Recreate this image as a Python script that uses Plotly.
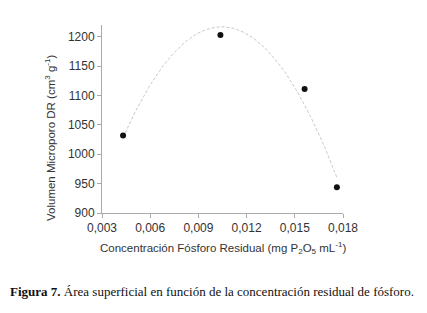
import numpy as np
import plotly.graph_objects as go

# Data
conc_p = [0.00431, 0.01037, 0.01561, 0.01762]
vol_micro = [1032, 1203, 1111, 944]

x_ticks = [0.003, 0.006, 0.009, 0.012, 0.015, 0.018]
y_ticks = [900, 950, 1000, 1050, 1100, 1150, 1200]

# Order-2 polynomial trendline from the data
coef = np.polyfit(conc_p, vol_micro, 2)
xt = np.linspace(min(conc_p), max(conc_p), 200)
yt = np.polyval(coef, xt)

fig = go.Figure()
fig.add_trace(go.Scatter(x=xt, y=yt, mode="lines",
                         line=dict(color="#c8c8c8", width=1, dash="3px,2px"),
                         hoverinfo="skip", showlegend=False))
fig.add_trace(go.Scatter(x=conc_p, y=vol_micro, mode="markers",
                         marker=dict(color="#111111", size=6),
                         showlegend=False))

axis_font = dict(family="Liberation Sans, Arial, sans-serif", size=12, color="#333333")
title_font = dict(family="Liberation Sans, Arial, sans-serif", size=11.5, color="#333333")

fig.update_layout(
    width=427, height=313,
    margin=dict(l=102, r=84, t=25, b=100),
    paper_bgcolor="white", plot_bgcolor="white",
    separators=",.",
    font=axis_font,
    xaxis=dict(range=[0.003, 0.018], tickvals=x_ticks, tickformat=".3f",
               showgrid=False, zeroline=False, showline=True, linecolor="#aaaaaa",
               linewidth=1, ticks="outside", ticklen=4, tickcolor="#aaaaaa",
               tickfont=axis_font),
    yaxis=dict(range=[900, 1220], tickvals=y_ticks,
               showgrid=False, zeroline=False, showline=True, linecolor="#aaaaaa",
               linewidth=1, ticks="outside", ticklen=4, tickcolor="#aaaaaa",
               tickfont=axis_font),
    annotations=[
        dict(text="Volumen Microporo DR (cm<sup>3</sup> g<sup>-1</sup>)",
             xref="paper", yref="paper", x=-0.215, y=0.40, textangle=-90,
             showarrow=False, xanchor="center", yanchor="middle",
             font=title_font),
        dict(text="Concentración Fósforo Residual (mg P<sub>2</sub>O<sub>5</sub> mL<sup>-1</sup>)",
             xref="paper", yref="paper", x=0.5, y=-0.186,
             showarrow=False, xanchor="center", yanchor="middle",
             font=title_font),
        dict(text="<b>Figura 7.</b> Área superficial en función de la concentración residual de fósforo.",
             xref="paper", yref="paper", x=-0.39, y=-0.42,
             showarrow=False, xanchor="left", yanchor="middle",
             font=dict(family="Liberation Serif, Times New Roman, serif", size=13, color="#111111")),
    ],
)

fig.write_html("out.html", config={"displayModeBar": False},
               post_script="document.body.style.margin='0';document.body.style.padding='0';")
